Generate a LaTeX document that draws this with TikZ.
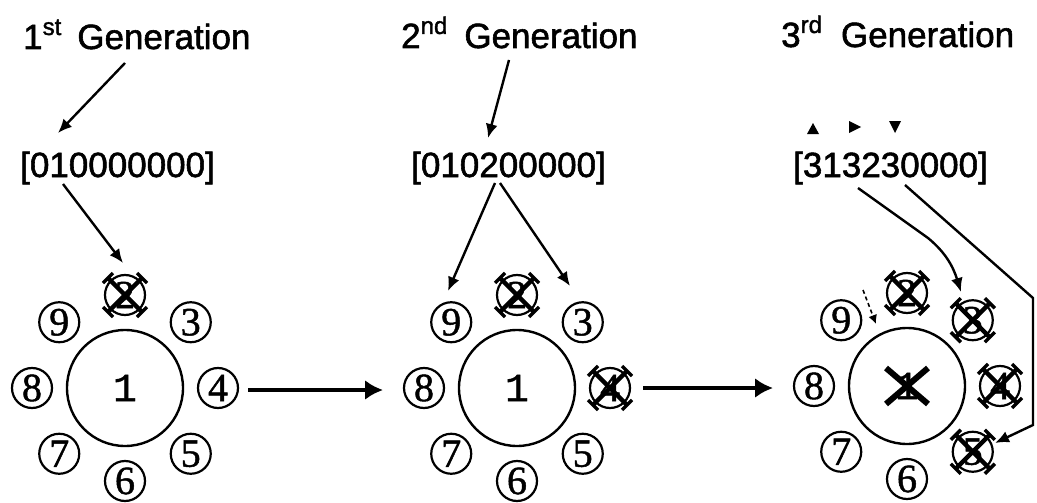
\documentclass[tikz,border=0pt]{standalone}
\usepackage{fontspec}
% heavier strokes on the regular outlines, widths kept
\setmainfont{Liberation Sans}[BoldFont=Liberation Sans,BoldFeatures={FakeBold=1.6}]
\newfontfamily\ringfont{Liberation Serif}[BoldFont=Liberation Serif,BoldFeatures={FakeBold=1.2}]
\newfontfamily\hubfont{Liberation Mono}[BoldFont=Liberation Mono,BoldFeatures={FakeBold=0.8}]
\usetikzlibrary{arrows.meta,calc}

\tikzset{
  hub/.style={circle,draw,line width=2.4pt,minimum size=116pt,inner sep=0pt,
    font=\hubfont\bfseries\fontsize{40}{40}\selectfont},
  site/.style={circle,draw,line width=2.2pt,minimum size=40pt,inner sep=0pt,
    font=\ringfont\bfseries\fontsize{40}{40}\selectfont},
  gentitle/.style={anchor=base west,inner sep=0pt,font=\bfseries\fontsize{35}{40}\selectfont},
  genome/.style={anchor=base west,inner sep=0pt,font=\bfseries\fontsize{35}{40}\selectfont},
  pointer/.style={line width=2.4pt,-{Latex[length=14pt,width=12pt]}},
  hint/.style={line width=1.6pt,dash pattern=on 4pt off 3pt,-{Latex[length=9pt,width=9pt]}},
  advance/.style={line width=4pt,-{Latex[length=18pt,width=20pt]}},
  tickmark/.style={fill=black},
  crossout/.pic={
    \draw[line width=4.5pt] (-17,-17) -- (17,17) (-17,17) -- (17,-17);
    \draw[line width=3.5pt] (12,22) -- (22,12) (-22,-12) -- (-12,-22)
                            (12,-22) -- (22,-12) (-22,12) -- (-12,22);
  },
  bigcross/.pic={
    \draw[line width=6pt] (-21,-18) -- (21,18) (-21,18) -- (21,-18);
  }
}

\begin{document}
\begin{tikzpicture}[x=1pt,y=-1pt]
\useasboundingbox (0,0) rectangle (1037,503);

% generation titles
\node[gentitle] (t1) at (23,49)
  {1\raisebox{14pt}{\fontsize{24}{24}\selectfont st}\hspace{16pt}Generation};
\node[gentitle] (t2) at (401,48)
  {2\raisebox{14pt}{\fontsize{24}{24}\selectfont nd}\hspace{17pt}Generation};
\node[gentitle] (t3) at (781,47)
  {3\raisebox{14pt}{\fontsize{24}{24}\selectfont rd}\hspace{19pt}Generation};

% genome strings
\node[genome] (c1) at (20,177) {[010000000]};
\node[genome] (c2) at (411,177) {[010200000]};
\node[genome] (c3) at (793,177) {[313230000]};

% hubs and their eight neighbouring sites
\node[hub] (g1c) at (125,388) {1};
\node[hub] (g2c) at (517,388) {1};
\node[hub] (g3c) at (907,386) {1};
\foreach \g in {1,2,3}{
  \foreach \k in {2,...,9}{
    \node[site] (g\g n\k) at ($(g\g c)+({45*(\k-2)-90}:93)$) {\k};
  }
}

% occupied sites are crossed out
\foreach \s in {g1n2,g2n2,g2n4,g3n2,g3n3,g3n4,g3n5}{
  \pic at (\s.center) {crossout};
}
\pic at (g3c.center) {bigcross};

% first generation pointers
\coordinate (a1s) at (125,63);  \coordinate (a1e) at (58,133);
\coordinate (b1s) at (63,184);  \coordinate (b1e) at (123,263);
\draw[pointer] (a1s) -- (a1e);
\draw[pointer] (b1s) -- (b1e);

% second generation pointers
\coordinate (a2s) at (509,60);  \coordinate (a2e) at (488,138);
\coordinate (b2s) at (495,183); \coordinate (b2e) at (448,291);
\coordinate (d2s) at (500,183); \coordinate (d2e) at (570,286);
\draw[pointer] (a2s) -- (a2e);
\draw[pointer] (b2s) -- (b2e);
\draw[pointer] (d2s) -- (d2e);

% third generation pointers
\coordinate (b3s) at (858,188); \coordinate (b3m) at (928,238);
\coordinate (b3e) at (961,292);
\draw[pointer] (b3s) -- (b3m) .. controls (945,252) and (953,266) .. (b3e);
\coordinate (d3s) at (905,185); \coordinate (d3a) at (1033,298);
\coordinate (d3b) at (1033,425); \coordinate (d3e) at (995,443);
\draw[pointer] (d3s) -- (d3a) -- (d3b) -- (d3e);
\coordinate (h3s) at (863,290); \coordinate (h3e) at (876,324);
\draw[hint] (h3s) -- (h3e);

% small marks above the genome digits
\fill[tickmark] (807,134) -- (813,123) -- (819,134) -- cycle;
\fill[tickmark] (849,121) -- (861,127) -- (849,133) -- cycle;
\fill[tickmark] (889,121) -- (901,121) -- (895,133) -- cycle;

% step arrows between generations
\coordinate (s1s) at (248,390); \coordinate (s1e) at (383,390);
\coordinate (s2s) at (643,388); \coordinate (s2e) at (773,388);
\draw[advance] (s1s) -- (s1e);
\draw[advance] (s2s) -- (s2e);
\end{tikzpicture}
\end{document}
